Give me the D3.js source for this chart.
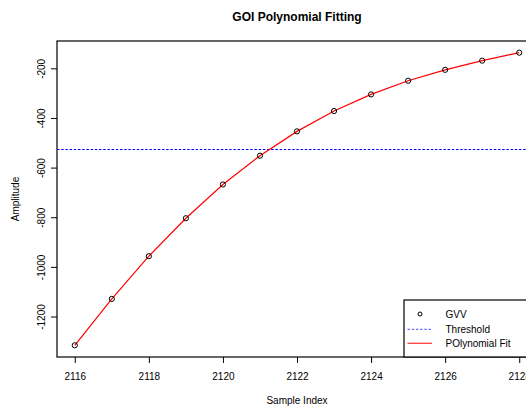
<!DOCTYPE html>
<html>
<head>
<meta charset="utf-8">
<script src="https://cdn.jsdelivr.net/npm/d3@7"></script>
<style>
  html, body { margin: 0; padding: 0; background: #fff; overflow: hidden; }
  svg { display: block; font-family: "Liberation Sans", Arial, Helvetica, sans-serif; }
</style>
</head>
<body>
<svg id="chart" width="526" height="407"></svg>
<script>
// Sample indices and measured GVV amplitudes
const sampleIndex = [2116, 2117, 2118, 2119, 2120, 2121, 2122, 2123, 2124, 2125, 2126, 2127, 2128];
const gvv = [-1316, -1129, -957, -804, -668, -552, -454, -372, -305, -250, -206, -169, -137];
// Fitted polynomial evaluated at each sample
const polyFit = [-1316, -1129, -957, -804, -668, -552, -454, -372, -305, -250, -206, -169, -137];
const threshold = -527;
const xTicks = [2116, 2118, 2120, 2122, 2124, 2126, 2128];
const yTicks = [-200, -400, -600, -800, -1000, -1200];
const legendLabels = ["GVV", "Threshold", "POlynomial Fit"];

const svg = d3.select("#chart");
const plot = { left: 57, top: 41, right: 537, bottom: 357 };

// R-style axis extents: data range padded by 4% on each side
function padded(ext) {
  const d = (ext[1] - ext[0]) * 0.04;
  return [ext[0] - d, ext[1] + d];
}
const x = d3.scaleLinear().domain(padded(d3.extent(sampleIndex))).range([plot.left, plot.right]);
const y = d3.scaleLinear().domain(padded(d3.extent(gvv))).range([plot.bottom, plot.top]);

// Title and axis titles
svg.append("text").attr("x", (plot.left + plot.right) / 2).attr("y", 21)
  .attr("text-anchor", "middle").attr("font-size", 12).attr("font-weight", "bold")
  .text("GOI Polynomial Fitting");
svg.append("text").attr("x", (plot.left + plot.right) / 2).attr("y", 404)
  .attr("text-anchor", "middle").attr("font-size", 10).text("Sample Index");
svg.append("text").attr("transform", `translate(19,${(plot.top + plot.bottom) / 2}) rotate(-90)`)
  .attr("text-anchor", "middle").attr("font-size", 10).text("Amplitude");

// Axes
const xAxis = svg.append("g").attr("transform", `translate(0,${plot.bottom})`)
  .call(d3.axisBottom(x).tickValues(xTicks).tickFormat(d3.format("d")).tickSize(6).tickSizeOuter(0));
xAxis.select(".domain").remove();
xAxis.selectAll("text").attr("font-size", 10).attr("font-family", null).attr("dy", "1.4em");

const yAxis = svg.append("g").attr("transform", `translate(${plot.left},0)`)
  .call(d3.axisLeft(y).tickValues(yTicks).tickFormat(d => d < 0 ? "-" + Math.abs(d) : d).tickSize(6).tickSizeOuter(0));
yAxis.select(".domain").remove();
yAxis.selectAll("text").attr("font-size", 10).attr("font-family", null)
  .attr("text-anchor", "middle").attr("dy", null)
  .attr("transform", "translate(-12,0) rotate(-90)").attr("y", 0).attr("x", 0);
svg.selectAll(".tick line").attr("stroke", "#000");

// Plot frame
svg.append("rect").attr("x", plot.left).attr("y", plot.top)
  .attr("width", plot.right - plot.left).attr("height", plot.bottom - plot.top)
  .attr("fill", "none").attr("stroke", "#000").attr("stroke-width", 1.2);

// Threshold line
svg.append("line").attr("x1", plot.left).attr("x2", plot.right)
  .attr("y1", y(threshold)).attr("y2", y(threshold))
  .attr("stroke", "#0000ff").attr("stroke-width", 1).attr("stroke-dasharray", "2.5,1.7");

// Polynomial fit
const pts = sampleIndex.map((s, i) => [s, polyFit[i]]);
svg.append("path").datum(pts)
  .attr("d", d3.line().x(d => x(d[0])).y(d => y(d[1])))
  .attr("fill", "none").attr("stroke", "#ff0000").attr("stroke-width", 1.2);

// GVV points
svg.append("g").selectAll("circle").data(sampleIndex).join("circle")
  .attr("cx", d => x(d)).attr("cy", (d, i) => y(gvv[i])).attr("r", 2.6)
  .attr("fill", "none").attr("stroke", "#000").attr("stroke-width", 1);

// Legend
const lg = svg.append("g");
lg.append("rect").attr("x", 404).attr("y", 300).attr("width", plot.right - 404).attr("height", plot.bottom - 300)
  .attr("fill", "#fff").attr("stroke", "#000").attr("stroke-width", 1.2);
const rows = [314, 329.3, 343.3];
lg.append("circle").attr("cx", 420).attr("cy", rows[0]).attr("r", 2)
  .attr("fill", "none").attr("stroke", "#000").attr("stroke-width", 1);
lg.append("line").attr("x1", 407.5).attr("x2", 432).attr("y1", rows[1]).attr("y2", rows[1])
  .attr("stroke", "#0000ff").attr("stroke-width", 1).attr("stroke-dasharray", "2.5,1.7").attr("opacity", 0.7);
lg.append("line").attr("x1", 407.5).attr("x2", 432).attr("y1", rows[2]).attr("y2", rows[2])
  .attr("stroke", "#ff0000").attr("stroke-width", 1.2).attr("opacity", 0.8);
lg.selectAll("text.lab").data(legendLabels).join("text").attr("class", "lab")
  .attr("x", 445.5).attr("y", (d, i) => rows[i] + 3.6).attr("font-size", 10).text(d => d);
</script>
</body>
</html>
